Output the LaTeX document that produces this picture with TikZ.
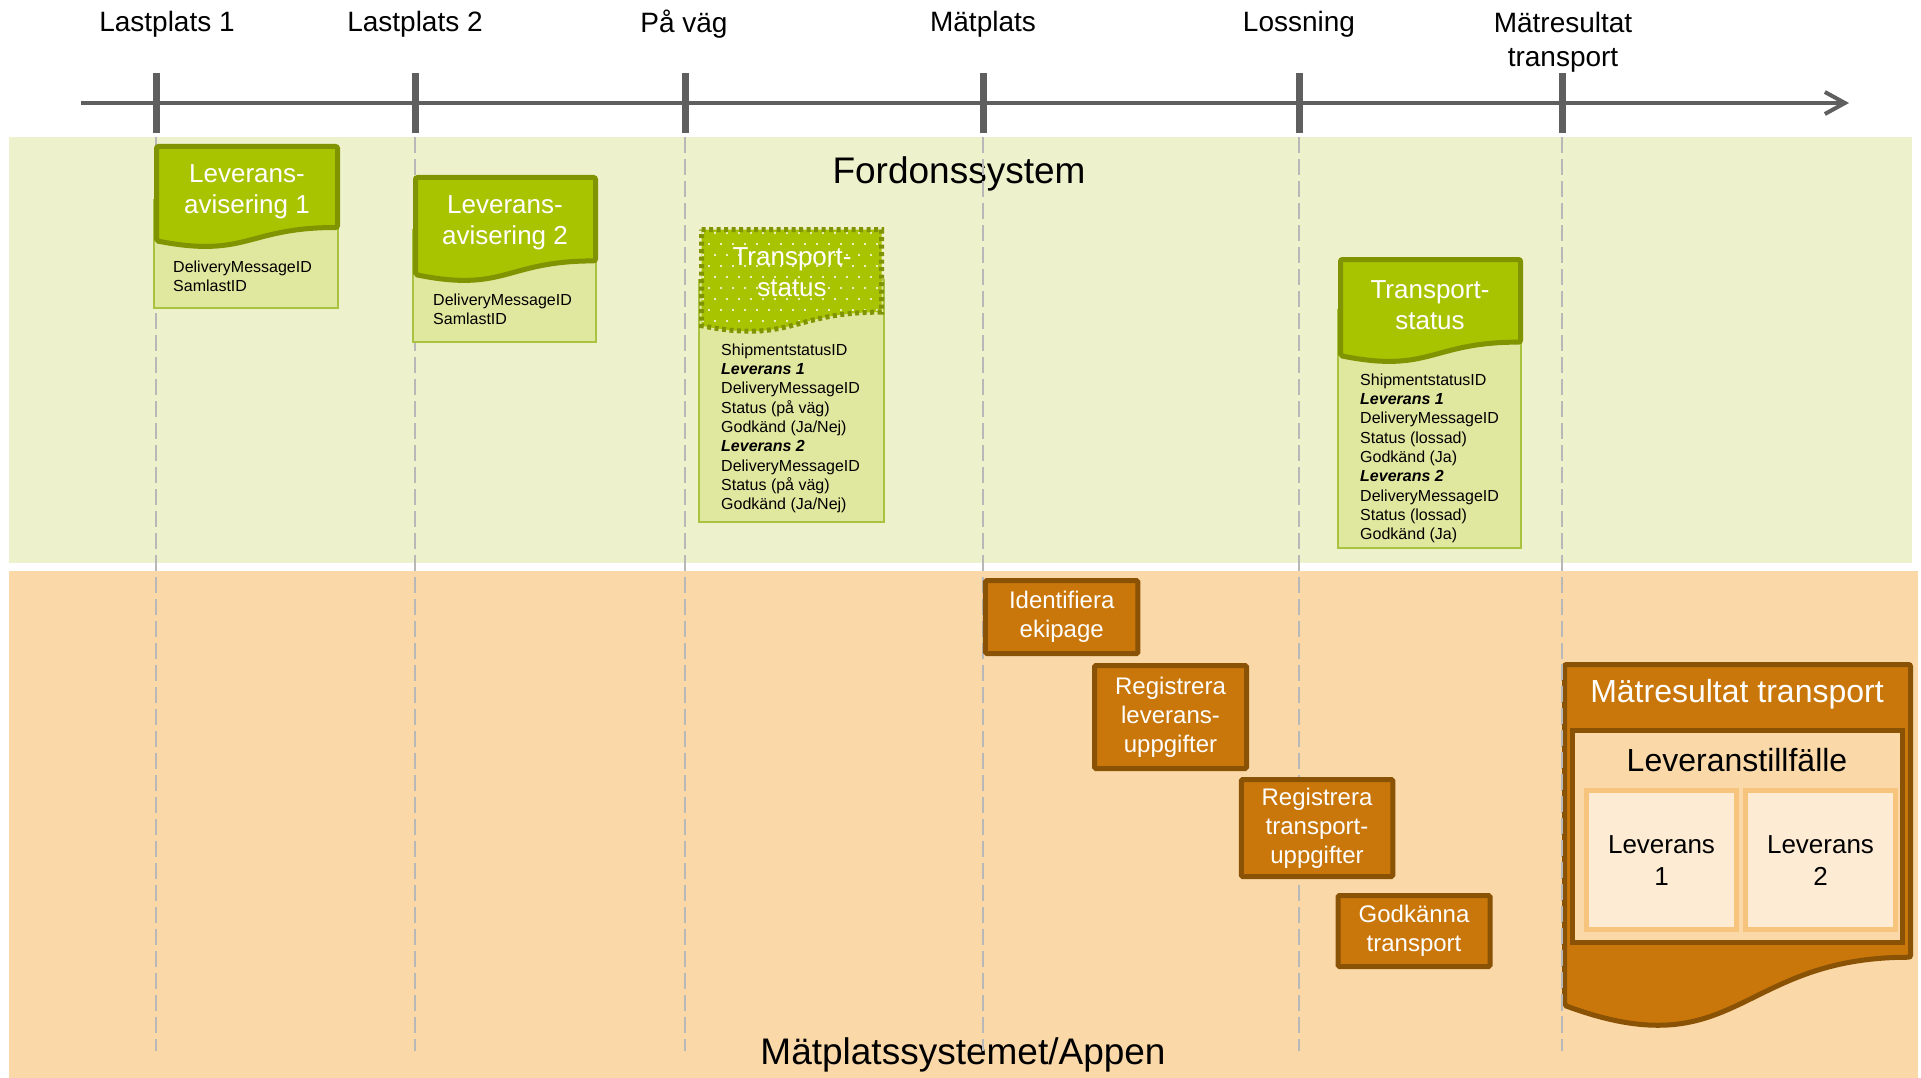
\documentclass[tikz,border=0pt]{standalone}
\usepackage{fontspec}
\setmainfont{Liberation Sans}
\usetikzlibrary{arrows.meta}

\definecolor{axisgray}{HTML}{5F5F5F}
\definecolor{dashgray}{HTML}{B8B8B8}
\definecolor{bandgreen}{HTML}{EDF2CC}
\definecolor{docgreen}{HTML}{A8C400}
\definecolor{docgreenline}{HTML}{7F9400}
\definecolor{bodygreen}{HTML}{E0E89F}
\definecolor{bodygreenline}{HTML}{A9C23F}
\definecolor{bandorange}{HTML}{FAD8A8}
\definecolor{taskorange}{HTML}{C9770A}
\definecolor{taskline}{HTML}{8A5205}
\definecolor{levfill}{HTML}{FDEBD4}
\definecolor{levline}{HTML}{F7C47D}

% document outline: left x, top y, right x, height
\newcommand{\docshape}[4]{(#1,#2) -- (#3,#2) -- (#3,#2+0.802*#4)
  .. controls ({(#1+#3)/2},#2+0.802*#4) and ({(#1+#3)/2},#2+1.108*#4) .. (#1,#2+0.934*#4) -- cycle}

\tikzset{
  axis/.style={draw=axisgray, line width=4pt},
  tick/.style={draw=axisgray, line width=7pt},
  guide/.style={draw=dashgray, line width=2.5pt, dash pattern=on 16pt off 6pt},
  phase/.style={font=\fontsize{28}{34}\selectfont, align=center, inner sep=0pt},
  band/.style={font=\fontsize{37}{44}\selectfont, inner sep=0pt},
  hdr/.style={fill=docgreen, draw=docgreenline, line width=5pt, rounded corners=2pt},
  hdrtext/.style={text=white, font=\fontsize{26}{31}\selectfont, align=center, inner sep=0pt},
  body/.style={fill=bodygreen, draw=bodygreenline, line width=1.5pt},
  fields/.style={font=\fontsize{16}{19.3}\selectfont, align=left, inner sep=0pt, anchor=north west},
  task/.style={rectangle, fill=taskorange, draw=taskline, line width=5pt, text=white,
    font=\fontsize{24}{29}\selectfont, align=center, inner sep=0pt, rounded corners=1.5pt},
}

\begin{document}
\begin{tikzpicture}[x=1pt, y=-1pt]
	\useasboundingbox (0,0) rectangle (1921,1078);
	% bands
	\fill[bandgreen]  (9,137) rectangle (1912,563);
	\fill[bandorange] (9,571) rectangle (1918,1078);
	\node[band] (fordon) at (959,174) {Fordonssystem};
	\node[band] (matsys) at (963,1055) {Mätplatssystemet/Appen};

	% timeline
	\draw[axis, -{Straight Barb[length=20pt, width=22pt]}] (81,103) -- (1849,103);
	\foreach \x in {156,415,685,983,1299,1562} {
		\draw[tick]  (\x,73)  -- (\x,133);
		\draw[guide] (\x,137) -- (\x,1051);
	}
	\node[phase] (last1) at (167,24.5)   {Lastplats 1};
	\node[phase] (last2) at (415,24.5)   {Lastplats 2};
	\node[phase] (pavag) at (684,24.5)   {På väg};
	\node[phase] (matpl) at (983,24.5)   {Mätplats};
	\node[phase] (lossn) at (1299,24.5)  {Lossning};
	\node[phase] (matres) at (1563,42.5) {Mätresultat\\transport};

	% leveransaviseringar
	\draw[body] (154,200) rectangle (338,308);
	\draw[hdr] \docshape{156.5}{146.5}{337.5}{101};
	\node[hdrtext] (lev1h) at (247,191.5) {Leverans-\\avisering 1};
	\node[fields] (lev1f) at (173,260.5) {DeliveryMessageID\\SamlastID};

	\draw[body] (413,230) rectangle (596,342);
	\draw[hdr] \docshape{415.5}{177.5}{595.5}{104};
	\node[hdrtext] (lev2h) at (505,222.5) {Leverans-\\avisering 2};
	\node[fields] (lev2f) at (433,293.5) {DeliveryMessageID\\SamlastID};

	% transportstatus, paa vaeg (dotted)
	\draw[body] (699,280) rectangle (884,522);
	\fill[docgreen] \docshape{701.5}{229.5}{881.5}{103};
	\begin{scope}
		\clip \docshape{701.5}{229.5}{881.5}{103};
		\foreach \r in {0,...,9}
			\foreach \c in {0,...,16}
				\fill[white] ({703+12*\c+6*mod(\r,2)},{233+11*\r}) circle (1.2);
	\end{scope}
	\draw[draw=docgreenline, line width=5pt, dash pattern=on 4pt off 3.5pt] \docshape{701.5}{229.5}{881.5}{103};
	\node[hdrtext] (ts1h) at (792,272.5) {Transport-\\status};
	\node[fields] (ts1f) at (721,343.5) {ShipmentstatusID\\\textbf{\textit{Leverans 1}}\\DeliveryMessageID\\Status (på väg)\\Godkänd (Ja/Nej)\\\textbf{\textit{Leverans 2}}\\DeliveryMessageID\\Status (på väg)\\Godkänd (Ja/Nej)};

	% transportstatus, lossad
	\draw[body] (1338,310) rectangle (1521,548);
	\draw[hdr] \docshape{1340.5}{259.5}{1520.5}{103};
	\node[hdrtext] (ts2h) at (1430,305.5) {Transport-\\status};
	\node[fields] (ts2f) at (1360,373.5) {ShipmentstatusID\\\textbf{\textit{Leverans 1}}\\DeliveryMessageID\\Status (lossad)\\Godkänd (Ja)\\\textbf{\textit{Leverans 2}}\\DeliveryMessageID\\Status (lossad)\\Godkänd (Ja)};

	% steps at maetplatsen
	\node[task, minimum width=152.5, minimum height=73] (ident)  at (1061.7,617) {Identifiera\\ekipage};
	\node[task, minimum width=152,   minimum height=103] (reglev) at (1170.5,717) {Registrera\\leverans-\\uppgifter};
	\node[task, minimum width=151.5, minimum height=97] (regtr)  at (1317,828)   {Registrera\\transport-\\uppgifter};
	\node[task, minimum width=152,   minimum height=71] (godk)   at (1414,931)   {Godkänna\\transport};

	% maetresultat
	\draw[fill=taskorange, draw=taskline, line width=5pt, rounded corners=2pt] \docshape{1564.5}{664.5}{1910.5}{365};
	\draw[guide] (1562,664) -- (1562,1030);
	\node[text=white, font=\fontsize{32}{38}\selectfont, inner sep=0pt] (mrtitle) at (1737,694.5) {Mätresultat transport};
	\draw[fill=bandorange, draw=taskline, line width=5pt] (1572.5,730.5) rectangle (1902.5,942.5);
	\node[font=\fontsize{32}{38}\selectfont, inner sep=0pt] (tillf) at (1737,760) {Leveranstillfälle};
	\draw[fill=levfill, draw=levline, line width=5pt] (1586.5,790.5) rectangle (1736.5,929.5);
	\draw[fill=levfill, draw=levline, line width=5pt] (1745.5,790.5) rectangle (1895.5,929.5);
	\node[font=\fontsize{26}{32}\selectfont, align=center, inner sep=0pt] (lev1) at (1661.5,861) {Leverans\\1};
	\node[font=\fontsize{26}{32}\selectfont, align=center, inner sep=0pt] (lev2) at (1820.5,861) {Leverans\\2};
\end{tikzpicture}
\end{document}
